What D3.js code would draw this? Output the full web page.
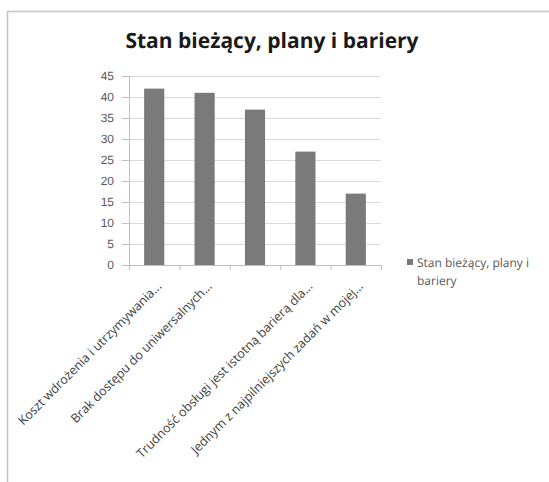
<!DOCTYPE html>
<html>
<head>
<meta charset="utf-8">
<script src="https://cdn.jsdelivr.net/npm/d3@7"></script>
<style>
  body { margin: 0; background: #fff; }
  svg { display: block; font-family: "Open Sans", "Helvetica", sans-serif; text-rendering: geometricPrecision; }
  .gridline line { stroke: #d9d9d9; }
  .gridline path { display: none; }
  .axis path, .axis line { stroke: #bfbfbf; }
  .axis text { fill: #595959; }
</style>
</head>
<body>
<div id="chart"></div>
<script>
// chart data
const categories = ["c1", "c2", "c3", "c4", "c5"]
const tickLabels = [
  "Koszt wdrożenia i utrzymywania...",
  "Brak dostępu do uniwersalnych...",
  "",
  "Trudność obsługi jest istotną barierą dla...",
  "Jednym z najpilniejszych zadań w mojej..."
]
const values = [42, 41, 37, 27, 17]
const yTicks = [0, 5, 10, 15, 20, 25, 30, 35, 40, 45]
const seriesName = ["Stan bieżący, plany i", "bariery"]
const titleText = "Stan bieżący, plany i bariery"

const W = 549, H = 482
const margin = { top: 76, left: 129, right: 168, bottom: 217 }
const width = W - margin.left - margin.right
const height = H - margin.top - margin.bottom

const root = d3.select("#chart").append("svg")
  .attr("width", W)
  .attr("height", H)

// outer chart frame (runs off right and bottom edges)
root.append("rect")
  .attr("x", 7.5).attr("y", 11.5)
  .attr("width", W + 20).attr("height", H + 20)
  .attr("fill", "none")
  .attr("stroke", "#c4c4c4")
  .attr("stroke-width", 1.5)

root.append("text")
  .attr("x", 272).attr("y", 48)
  .attr("text-anchor", "middle")
  .style("font-size", "21px")
  .style("font-weight", "700")
  .attr("fill", "#1a1a1a")
  .text(titleText)

const svg = root.append("g")
  .attr("transform", "translate(" + margin.left + "," + margin.top + ")")

const x = d3.scaleBand()
  .domain(categories)
  .range([0, width])
  .paddingInner(0.6)
  .paddingOuter(0.3)

const xTick = d3.scaleBand().domain(categories).range([0, width])

const y = d3.scaleLinear()
  .domain([0, 45])
  .range([height, 0])

// gridlines
svg.append("g")
  .classed("gridline", true)
  .attr("transform", "translate(-7,0)")
  .call(d3.axisLeft(y).tickValues(yTicks).tickSize(-(width + 7)).tickFormat(""))

svg.selectAll(".bar")
  .data(values)
  .enter()
    .append("rect")
    .classed("bar", true)
    .attr("x", (d, i) => x(categories[i]))
    .attr("y", d => y(d))
    .attr("width", x.bandwidth())
    .attr("height", d => height - y(d))
    .attr("fill", "#7a7a7a")

// y axis
const yAxis = svg.append("g")
  .classed("axis", true)
  .call(d3.axisLeft(y).tickValues(yTicks).tickSize(7).tickPadding(8))
yAxis.select(".domain").attr("d", "M0.5,0V" + (height + 0.5))
yAxis.selectAll("text").style("font-size", "12px")

// x axis, ticks between categories
const xAxis = svg.append("g")
  .classed("axis", true)
  .attr("transform", "translate(0," + height + ")")
xAxis.append("line")
  .attr("x1", -7).attr("x2", width)
  .attr("y1", 0.5).attr("y2", 0.5)
xAxis.selectAll(".xt")
  .data(categories.concat(["end"]))
  .enter()
    .append("line")
    .attr("x1", (d, i) => i * xTick.bandwidth() + 0.5)
    .attr("x2", (d, i) => i * xTick.bandwidth() + 0.5)
    .attr("y1", 0).attr("y2", 5)

xAxis.selectAll(".xlabel")
  .data(tickLabels)
  .enter()
    .append("text")
    .classed("xlabel", true)
    .attr("transform", (d, i) => "translate(" + (xTick(categories[i]) + xTick.bandwidth() / 2 + 8) + ",22) rotate(-45)")
    .style("text-anchor", "end")
    .style("font-size", "12.5px")
    .attr("fill", "#404040")
    .style("fill", "#404040")
    .text(d => d)

// legend
const legend = root.append("g")
  .attr("transform", "translate(407,259)")
legend.append("rect")
  .attr("width", 6).attr("height", 6)
  .attr("fill", "#7a7a7a")
legend.selectAll("text")
  .data(seriesName)
  .enter()
    .append("text")
    .attr("x", 10)
    .attr("y", (d, i) => 8 + i * 18)
    .style("font-size", "12px")
    .attr("fill", "#595959")
    .text(d => d)
</script>
</body>
</html>
